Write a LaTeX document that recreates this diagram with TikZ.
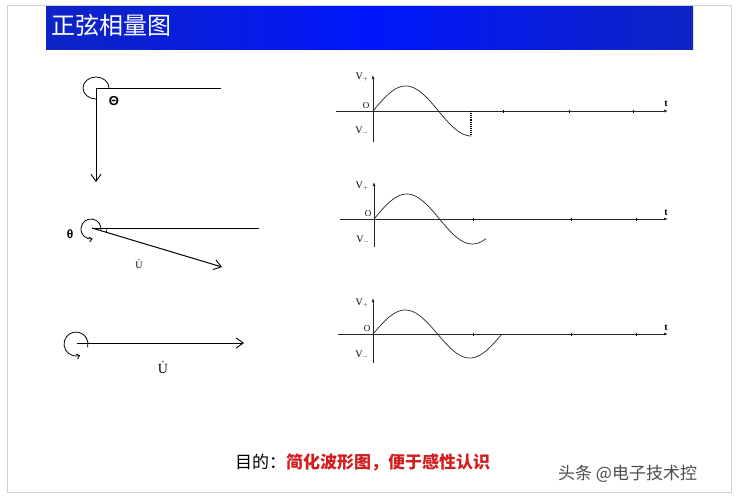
\documentclass[tikz,border=0pt]{standalone}
\usepackage{fontspec}
\setmainfont{Liberation Serif}
\newfontfamily\cjk{Noto Sans CJK SC}
\newfontfamily\sansf{Liberation Sans}
\usetikzlibrary{arrows.meta}
\definecolor{hbedge}{RGB}{14,36,196}
\definecolor{hbmid}{RGB}{0,22,250}
\definecolor{redtxt}{RGB}{210,30,30}
\begin{document}
\begin{tikzpicture}[x=1pt,y=-1pt,
  phasor/.style={line width=1pt,draw=black},
  barb/.style={-{Straight Barb[length=7pt,width=10pt,line width=0.9pt]}},
  rot/.style={line width=0.8pt,-{Straight Barb[length=3pt,width=5pt,line width=0.8pt]}},
  axis/.style={line width=0.6pt,draw=black!85,-{Latex[length=4pt,width=3pt]}},
  wave/.style={line width=0.7pt,draw=black!85},
  glab/.style={font=\fontsize{10}{11}\selectfont,inner sep=0pt},
  olab/.style={font=\fontsize{9}{10}\selectfont,inner sep=0pt},
  thlab/.style={font=\sansf\bfseries\fontsize{12}{13}\selectfont,inner sep=0pt}]
\useasboundingbox (0,0) rectangle (740,499);
\fill[white] (0,0) rectangle (740,499);
\draw[black!18,line width=1pt] (7,5) rectangle (731,492);
% header
\shade[left color=hbedge,right color=hbedge,middle color=hbmid] (46,6) rectangle (693,49);
\node[anchor=west,text=white,inner sep=0pt,font=\cjk\fontsize{24}{28}\selectfont] (title) at (51,25) {正弦相量图};
% phasor 1
\coordinate (p1) at (96,88);
\coordinate (p1h) at (221,88);
\coordinate (p1v) at (96,182);
\draw[phasor] (p1) -- (p1h);
\draw[phasor,barb] (p1) -- (p1v);
\draw[line width=0.8pt] (109,88) arc[start angle=0,end angle=-270,x radius=13,y radius=11];
\node[thlab,font=\sansf\bfseries\fontsize{13}{14}\selectfont] (th1) at (114,101) {Θ};
% phasor 2
\coordinate (p2) at (92,228);
\coordinate (p2h) at (259,228);
\coordinate (p2v) at (222,267);
\draw[phasor] (p2) -- (p2h);
\draw[phasor,barb] (p2) -- (p2v);
\draw[rot] (100.85,230.7) arc[start angle=10,end angle=-280,radius=10];
\draw[line width=0.6pt] (107,228) arc[start angle=0,end angle=16.7,radius=15];
\node[thlab] (th2) at (70,234) {θ};
\node[inner sep=0pt,font=\fontsize{10}{11}\selectfont] (u2) at (139,265) {U};
\fill ([yshift=2pt]u2.north) circle (0.6pt);
% phasor 3
\coordinate (p3) at (77,343);
\coordinate (p3e) at (244,343);
\draw[phasor,barb] (p3) -- (p3e);
\draw[rot] (87.6,347.1) arc[start angle=15,end angle=-290,radius=12];
\node[inner sep=0pt,font=\fontsize{14}{15}\selectfont] (u3) at (163,369) {U};
\fill ([yshift=2.5pt]u3.north) circle (0.8pt);
% graph 1
\draw[axis] (373,142) -- (373,75);
\draw[axis] (336,111) -- (668,111);
\draw[wave] plot[domain=0:270,samples=60] ({373+\x/360*131},{111-25*sin(\x)});
\draw[densely dotted,line width=1.1pt] (471,111) -- (471,135);
\foreach \t in {503,569,633} \draw[line width=0.6pt] (\t,109.5) -- (\t,112.5);
\node[glab] (vp1) at (362,77) {V$_{\scriptscriptstyle +}$};
\node[olab] (o1) at (366,106) {O};
\node[glab] (vm1) at (362,131) {V$_{\scriptscriptstyle -}$};
\node[glab] (t1) at (666,104) {\textbf{t}};
% graph 2
\draw[axis] (374,247) -- (374,182);
\draw[axis] (340,219) -- (668,219);
\draw[wave] plot[domain=0:308,samples=60] ({374+\x/360*131},{219-25*sin(\x)});
\foreach \t in {473,571,636} \draw[line width=0.6pt] (\t,217.5) -- (\t,220.5);
\node[glab] (vp2) at (362,186) {V$_{\scriptscriptstyle +}$};
\node[olab] (o2) at (368,214) {O};
\node[glab] (vm2) at (363,240) {V$_{\scriptscriptstyle -}$};
\node[glab] (t2) at (666,213) {\textbf{t}};
% graph 3
\draw[axis] (373,363) -- (373,298);
\draw[axis] (338,334) -- (668,334);
\draw[wave] plot[domain=0:360,samples=70] ({373+\x/360*129},{334-24*sin(\x)});
\foreach \t in {473,571,636} \draw[line width=0.6pt] (\t,332.5) -- (\t,335.5);
\node[glab] (vp3) at (362,303) {V$_{\scriptscriptstyle +}$};
\node[olab] (o3) at (367,329) {O};
\node[glab] (vm3) at (362,355) {V$_{\scriptscriptstyle -}$};
\node[glab] (t3) at (666,328) {\textbf{t}};
% bottom text
\node[anchor=west,inner sep=0pt,font=\cjk\fontsize{17}{20}\selectfont] (goal) at (235,462) {目的：\textcolor{redtxt}{\bfseries 简化波形图，便于感性认识}};
\node[anchor=west,inner sep=0pt,text=black!70,font=\cjk\fontsize{17}{20}\selectfont] (wm) at (558,474) {头条 @电子技术控};
\end{tikzpicture}
\end{document}
